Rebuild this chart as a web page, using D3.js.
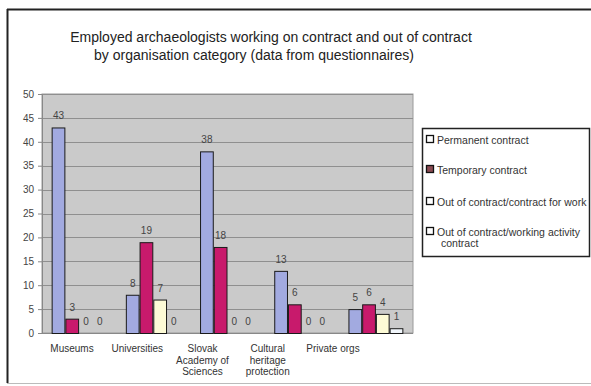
<!DOCTYPE html>
<html>
<head>
<meta charset="utf-8">
<script src="https://cdn.jsdelivr.net/npm/d3@7"></script>
<style>
  html, body { margin: 0; padding: 0; background: #fff; }
  svg { display: block; font-family: Arial, "Liberation Sans", sans-serif; }
</style>
</head>
<body>
<svg id="chart" width="591" height="386"></svg>
<script>
// Organisation categories (multi-line labels)
const categories = ["Museums", "Universities", "Slovak Academy of Sciences", "Cultural heritage protection", "Private orgs"];
const categoryLines = [["Museums"], ["Universities"], ["Slovak", "Academy of", "Sciences"], ["Cultural", "heritage", "protection"], ["Private orgs"]];

// Series
const seriesNames = ["Permanent contract", "Temporary contract", "Out of contract/contract for work", "Out of contract/working activity contract"];
const permanent = [43, 8, 38, 13, 5];
const temporary = [3, 19, 18, 6, 6];
const contractForWork = [0, 7, 0, 0, 4];
const workingActivity = [0, 0, 0, 0, 1];
const seriesValues = [permanent, temporary, contractForWork, workingActivity];
const seriesColors = ["#a2aae0", "#c81a6c", "#fdfbd6", "#f1f6fb"];
const legendSwatches = ["#ffffff", "#8a4a52", "#ffffff", "#ffffff"];

const yTicks = [0, 5, 10, 15, 20, 25, 30, 35, 40, 45, 50];

const svg = d3.select("#chart");

// Outer frame
svg.append("line").attr("x1", 7).attr("x2", 591).attr("y1", 9.5).attr("y2", 9.5)
  .attr("stroke", "#222").attr("stroke-width", 2);
svg.append("line").attr("x1", 7.5).attr("x2", 7.5).attr("y1", 9).attr("y2", 383)
  .attr("stroke", "#222").attr("stroke-width", 2);
svg.append("line").attr("x1", 7).attr("x2", 591).attr("y1", 383.5).attr("y2", 383.5)
  .attr("stroke", "#bbb").attr("stroke-width", 1);

// Title
const title = svg.append("g").attr("fill", "#222").attr("font-size", 14).attr("text-anchor", "middle");
title.append("text").attr("x", 271).attr("y", 42).text("Employed archaeologists working on contract and out of contract");
title.append("text").attr("x", 254).attr("y", 60).text("by organisation category (data from questionnaires)");

// Plot area
const plot = { left: 42, right: 413, top: 94, bottom: 333 };

const x = d3.scaleBand().domain(categories).range([plot.left, plot.right])
  .paddingInner(0.26).paddingOuter(0.13);
const xs = d3.scaleBand().domain(d3.range(seriesNames.length)).range([0, x.bandwidth()]);
const y = d3.scaleLinear().domain([0, 50]).range([plot.bottom, plot.top]);
// Category captions sit on their own, tighter spacing under the plot
const xLabel = d3.scalePoint().domain(categories).range([72, 333]);

svg.append("rect").attr("x", plot.left).attr("y", plot.top)
  .attr("width", plot.right - plot.left).attr("height", plot.bottom - plot.top)
  .attr("fill", "#cacaca").attr("stroke", "#9a9a9a");

// Gridlines
svg.append("g").selectAll("line").data(yTicks.filter(d => d > 0)).join("line")
  .attr("x1", plot.left).attr("x2", plot.right)
  .attr("y1", d => Math.round(y(d)) + 0.5).attr("y2", d => Math.round(y(d)) + 0.5)
  .attr("stroke", "#8f8f8f").attr("stroke-width", 1);

// Y axis
const yAxis = svg.append("g").attr("transform", `translate(${plot.left},0)`)
  .call(d3.axisLeft(y).tickValues(yTicks).tickSize(4).tickPadding(4));
yAxis.select(".domain").attr("stroke", "#888");
yAxis.selectAll(".tick line").attr("stroke", "#888");
yAxis.selectAll("text").attr("fill", "#444").attr("font-size", 10)
  .attr("font-family", "Arial, 'Liberation Sans', sans-serif");

// X axis baseline
svg.append("line").attr("x1", plot.left).attr("x2", plot.right)
  .attr("y1", plot.bottom + 0.5).attr("y2", plot.bottom + 0.5).attr("stroke", "#888");

// Bars
const rows = [];
categories.forEach((c, ci) => {
  seriesValues.forEach((vals, si) => rows.push({ c, si, v: vals[ci] }));
});

const bars = svg.append("g");
bars.selectAll("rect").data(rows.filter(d => d.v > 0)).join("rect")
  .attr("x", d => x(d.c) + xs(d.si) + 0.5)
  .attr("y", d => y(d.v) + 0.5)
  .attr("width", xs.bandwidth() - 1)
  .attr("height", d => y(0) - y(d.v))
  .attr("fill", d => seriesColors[d.si])
  .attr("stroke", "#1a1a1a").attr("stroke-width", 1);

// Value labels
svg.append("g").attr("font-size", 10).attr("fill", "#444").attr("text-anchor", "middle")
  .selectAll("text").data(rows).join("text")
  .attr("x", d => x(d.c) + xs(d.si) + xs.bandwidth() / 2)
  .attr("y", d => y(d.v) - 8)
  .text(d => d.v);

// Category labels
const catG = svg.append("g").attr("font-size", 10).attr("fill", "#333").attr("text-anchor", "middle");
categories.forEach((c, i) => {
  const t = catG.append("text").attr("x", xLabel(c)).attr("y", 352);
  categoryLines[i].forEach((ln, j) => {
    t.append("tspan").attr("x", xLabel(c)).attr("dy", j === 0 ? 0 : 11.5).text(ln);
  });
});

// Legend
const legend = svg.append("g");
legend.append("rect").attr("x", 422.5).attr("y", 128.5).attr("width", 167).attr("height", 128)
  .attr("fill", "#fff").attr("stroke", "#222").attr("stroke-width", 1.5);
const legendY = [140, 170, 202, 232];
const legendLines = [["Permanent contract"], ["Temporary contract"], ["Out of contract/contract for work"], ["Out of contract/working activity", "contract"]];
seriesNames.forEach((s, i) => {
  legend.append("rect").attr("x", 426.5).attr("y", legendY[i] - 4.5).attr("width", 7).attr("height", 7)
    .attr("fill", legendSwatches[i]).attr("stroke", "#111").attr("stroke-width", 1.3);
  const t = legend.append("text").attr("x", 437).attr("y", legendY[i] + 3.5)
    .attr("font-size", 10.5).attr("fill", "#333");
  legendLines[i].forEach((ln, j) => {
    t.append("tspan").attr("x", j === 0 ? 437 : 441).attr("dy", j === 0 ? 0 : 11.5).text(ln);
  });
});
</script>
</body>
</html>
